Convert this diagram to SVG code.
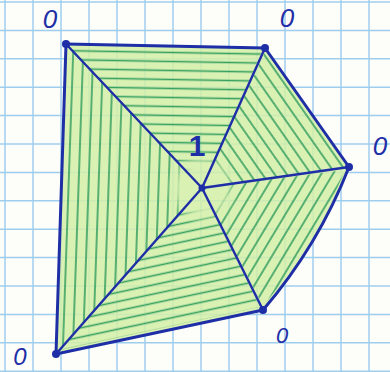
<svg xmlns="http://www.w3.org/2000/svg" width="390" height="372" viewBox="0 0 390 372">
  <style>
    .grid line { stroke: #9fcdee; stroke-width: 1.5; }
    .face { fill: #d4efa8; fill-opacity: 0.85; stroke: none; }
    .hatch { stroke: none; }
    .edge { fill: none; stroke: #1e2ea6; stroke-width: 3; stroke-linecap: round; stroke-linejoin: round; }
    .spoke { fill: none; stroke: #1e2ea6; stroke-width: 2.4; stroke-linecap: round; }
    .dot { fill: #1e2ea6; }
    .lbl { font-family: "Liberation Sans", "DejaVu Sans", sans-serif; font-size: 26px; font-style: italic; fill: #1e2ea6; text-anchor: middle; }
    .one { font-family: "Liberation Sans", "DejaVu Sans", sans-serif; font-size: 30px; font-weight: bold; fill: #1e2ea6; text-anchor: middle; }
  </style>
  <defs>
    <pattern id="hTop" patternUnits="userSpaceOnUse" width="10" height="9" patternTransform="rotate(1)">
      <line x1="0" y1="4.5" x2="10" y2="4.5" stroke="#35a060" stroke-width="1.6"/>
    </pattern>
    <pattern id="hRT" patternUnits="userSpaceOnUse" width="10" height="10" patternTransform="rotate(55)">
      <line x1="0" y1="5" x2="10" y2="5" stroke="#35a060" stroke-width="1.6"/>
    </pattern>
    <pattern id="hRB" patternUnits="userSpaceOnUse" width="10" height="10" patternTransform="rotate(-59)">
      <line x1="0" y1="5" x2="10" y2="5" stroke="#35a060" stroke-width="1.6"/>
    </pattern>
    <pattern id="hBot" patternUnits="userSpaceOnUse" width="10" height="9" patternTransform="rotate(-12)">
      <line x1="0" y1="4.5" x2="10" y2="4.5" stroke="#35a060" stroke-width="1.6"/>
    </pattern>
    <pattern id="hLeft" patternUnits="userSpaceOnUse" width="10" height="10" patternTransform="rotate(92)">
      <line x1="0" y1="5" x2="10" y2="5" stroke="#35a060" stroke-width="1.6"/>
    </pattern>
    <radialGradient id="fadeG" gradientUnits="userSpaceOnUse" cx="202" cy="188" r="44">
      <stop offset="0" stop-color="#000"/>
      <stop offset="0.45" stop-color="#000"/>
      <stop offset="0.85" stop-color="#fff"/>
      <stop offset="1" stop-color="#fff"/>
    </radialGradient>
    <mask id="fade" maskUnits="userSpaceOnUse" x="0" y="0" width="390" height="372">
      <rect x="0" y="0" width="390" height="372" fill="url(#fadeG)"/>
    </mask>
  </defs>

  <rect x="0" y="0" width="390" height="372" fill="#fdfdf9"/>

  <g class="grid" id="grid">
    <line x1="5" y1="0" x2="5" y2="372"/>
    <line x1="33" y1="0" x2="33" y2="372"/>
    <line x1="61" y1="0" x2="61" y2="372"/>
    <line x1="89" y1="0" x2="89" y2="372"/>
    <line x1="117" y1="0" x2="117" y2="372"/>
    <line x1="145" y1="0" x2="145" y2="372"/>
    <line x1="173" y1="0" x2="173" y2="372"/>
    <line x1="201" y1="0" x2="201" y2="372"/>
    <line x1="229" y1="0" x2="229" y2="372"/>
    <line x1="257" y1="0" x2="257" y2="372"/>
    <line x1="285" y1="0" x2="285" y2="372"/>
    <line x1="313" y1="0" x2="313" y2="372"/>
    <line x1="341" y1="0" x2="341" y2="372"/>
    <line x1="369" y1="0" x2="369" y2="372"/>
    <line x1="0" y1="2" x2="390" y2="2"/>
    <line x1="0" y1="30.4" x2="390" y2="30.4"/>
    <line x1="0" y1="58.8" x2="390" y2="58.8"/>
    <line x1="0" y1="87.2" x2="390" y2="87.2"/>
    <line x1="0" y1="115.6" x2="390" y2="115.6"/>
    <line x1="0" y1="144" x2="390" y2="144"/>
    <line x1="0" y1="172.4" x2="390" y2="172.4"/>
    <line x1="0" y1="200.8" x2="390" y2="200.8"/>
    <line x1="0" y1="229.2" x2="390" y2="229.2"/>
    <line x1="0" y1="257.6" x2="390" y2="257.6"/>
    <line x1="0" y1="286" x2="390" y2="286"/>
    <line x1="0" y1="314.4" x2="390" y2="314.4"/>
    <line x1="0" y1="342.8" x2="390" y2="342.8"/>
    <line x1="0" y1="371.2" x2="390" y2="371.2"/>
  </g>

  <g id="faces">
    <path class="face" d="M66,44 L265,48 L202,188 Z"/>
    <path class="face" d="M265,48 L349,167 L202,188 Z"/>
    <path class="face" d="M349,167 Q318,246 263,310 L202,188 Z"/>
    <path class="face" d="M263,310 L56,354 L202,188 Z"/>
    <path class="face" d="M56,354 L66,44 L202,188 Z"/>
    <g mask="url(#fade)">
      <path class="hatch" fill="url(#hTop)" d="M70,48 L262,51 L202,188 Z"/>
      <path class="hatch" fill="url(#hRT)" d="M265,52 L345,167 L202,188 Z"/>
      <path class="hatch" fill="url(#hRB)" d="M345,170 Q315,244 263,306 L202,188 Z"/>
      <path class="hatch" fill="url(#hBot)" d="M260,307 L60,350 L202,188 Z"/>
      <path class="hatch" fill="url(#hLeft)" d="M60,350 L70,48 L202,188 Z"/>
    </g>
  </g>

  <g id="connectors">
    <path class="edge" d="M66,44 L265,48"/>
    <path class="edge" d="M265,48 L349,167"/>
    <path class="edge" d="M349,167 Q318,246 263,310"/>
    <path class="edge" d="M263,310 L56,354"/>
    <path class="edge" d="M56,354 L66,44"/>
    <path class="spoke" d="M202,188 L66,44"/>
    <path class="spoke" d="M202,188 L265,48"/>
    <path class="spoke" d="M202,188 L349,167"/>
    <path class="spoke" d="M202,188 L263,310"/>
    <path class="spoke" d="M202,188 L56,354"/>
  </g>

  <g id="node-center">
    <circle class="dot" cx="202" cy="188" r="3.5"/>
    <text class="one" x="197" y="156">1</text>
  </g>
  <g id="node-top-left">
    <circle class="dot" cx="66" cy="44" r="4"/>
    <text class="lbl" x="50" y="28">0</text>
  </g>
  <g id="node-top-right">
    <circle class="dot" cx="265" cy="48" r="4"/>
    <text class="lbl" x="287" y="27">0</text>
  </g>
  <g id="node-right">
    <circle class="dot" cx="349" cy="167" r="4"/>
    <text class="lbl" x="380" y="155">0</text>
  </g>
  <g id="node-bottom-right">
    <circle class="dot" cx="263" cy="310" r="4"/>
    <text class="lbl" x="282" y="343" style="font-size:22px">0</text>
  </g>
  <g id="node-bottom-left">
    <circle class="dot" cx="56" cy="354" r="4"/>
    <text class="lbl" x="20" y="365" style="font-size:24px">0</text>
  </g>
</svg>
